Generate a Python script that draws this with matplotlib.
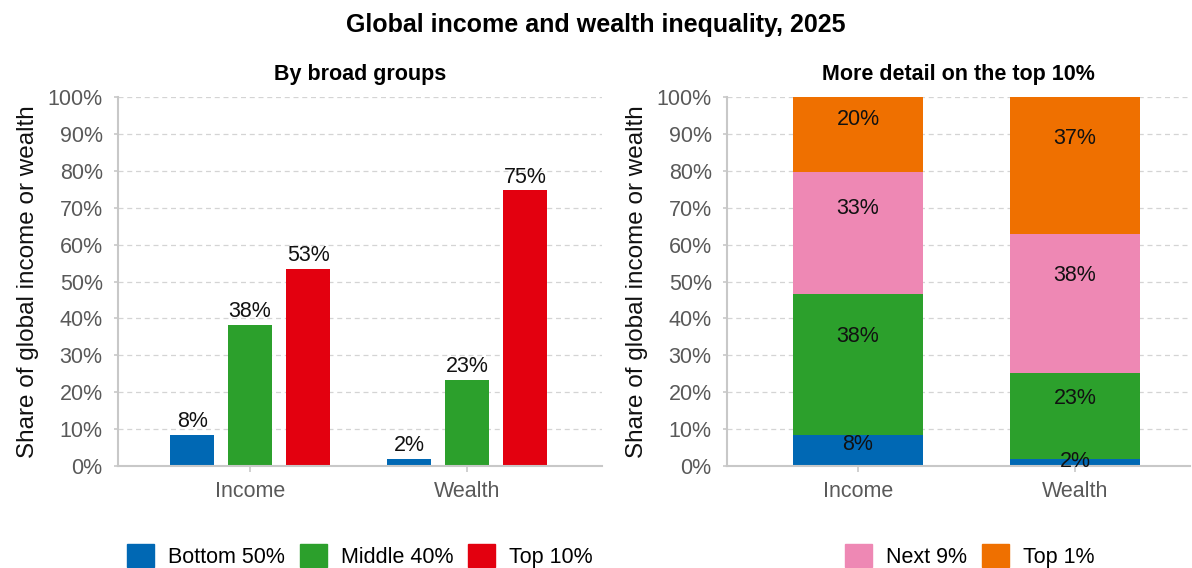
import matplotlib
matplotlib.use("Agg")
import matplotlib.pyplot as plt
from matplotlib.patches import Patch
import numpy as np

plt.rcParams['font.family'] = ['Liberation Sans', 'DejaVu Sans']

# ---- data ----
categories = ["Income", "Wealth"]
bottom50 = [8.4, 1.9]
middle40 = [38.2, 23.4]
top10 = [53.4, 74.7]
next9 = [33.1, 37.6]
top1 = [20.3, 37.1]
yticks = [0, 10, 20, 30, 40, 50, 60, 70, 80, 90, 100]
yticklabels = [f"{v}%" for v in yticks]

title = "Global income and wealth inequality, 2025"
sub_left = "By broad groups"
sub_right = "More detail on the top 10%"
ylab = "Share of global income or wealth"

C_BOTTOM = "#0068b4"
C_MIDDLE = "#2ca02c"
C_TOP10 = "#e3000f"
C_NEXT9 = "#ee88b4"
C_TOP1 = "#ef7000"
TICK_COLOR = "#595959"
SPINE_COLOR = "#c8c8c8"
GRID_COLOR = "#d4d4d4"
FS = 15.5

W, H = 1192, 568
fig = plt.figure(figsize=(W / 100, H / 100), dpi=100)

def px_axes(x0, x1, ytop, ybot):
    return fig.add_axes([x0 / W, (H - ybot) / H, (x1 - x0) / W, (ybot - ytop) / H])

axL = px_axes(118, 602, 97, 466)
axR = px_axes(727, 1190, 97, 466)

def style(ax):
    ax.set_ylim(0, 100)
    ax.set_yticks(yticks)
    ax.set_yticklabels(yticklabels)
    ax.yaxis.grid(True, linestyle=(0, (4, 3)), color=GRID_COLOR, linewidth=0.9)
    ax.set_axisbelow(True)
    for s in ["top", "right"]:
        ax.spines[s].set_visible(False)
    for s in ["left", "bottom"]:
        ax.spines[s].set_color(SPINE_COLOR)
        ax.spines[s].set_linewidth(1.5)
    ax.tick_params(axis="y", colors=SPINE_COLOR, labelcolor=TICK_COLOR, labelsize=FS, length=3, width=1.2, pad=8)
    ax.tick_params(axis="x", colors=SPINE_COLOR, labelcolor=TICK_COLOR, labelsize=FS, length=4, width=1.2, pad=7)
    ax.set_ylabel(ylab, fontsize=17.5, color="#111111", labelpad=6)

x = np.arange(len(categories))

# ---- left panel: grouped bars ----
bw = 0.203
step = 0.267
series = [(bottom50, C_BOTTOM), (middle40, C_MIDDLE), (top10, C_TOP10)]
for i, (vals, col) in enumerate(series):
    pos = x + (i - 1) * step
    bars = axL.bar(pos, vals, width=bw, color=col)
    for b, v in zip(bars, vals):
        axL.annotate(f"{v:.0f}%", (b.get_x() + b.get_width() / 2, v), xytext=(0, 2),
                     textcoords="offset points", ha="center", va="bottom", fontsize=FS, color="#111111")
axL.set_xlim(-0.608, 1.62)
axL.set_xticks(x)
axL.set_xticklabels(categories)
style(axL)
axL.set_title(sub_left, fontsize=15.5, fontweight="bold", pad=12)

# ---- right panel: stacked bars ----
stack = [(bottom50, C_BOTTOM), (middle40, C_MIDDLE), (next9, C_NEXT9), (top1, C_TOP1)]
base = np.zeros(len(categories))
for vals, col in stack:
    vals = np.array(vals)
    axR.bar(x, vals, width=0.6, bottom=base, color=col)
    for xi, b, v in zip(x, base, vals):
        axR.text(xi, b + v * 0.7, f"{v:.0f}%", ha="center", va="center", fontsize=FS, color="#111111")
    base = base + vals
axR.set_xlim(-0.604, 1.53)
axR.set_xticks(x)
axR.set_xticklabels(categories)
style(axR)
axR.set_title(sub_right, fontsize=15.5, fontweight="bold", pad=12)

fig.text(0.5, 1 - 25 / H, title, ha="center", va="center", fontsize=18, fontweight="bold")

# ---- legends ----
legL = [Patch(color=C_BOTTOM, label="Bottom 50%"), Patch(color=C_MIDDLE, label="Middle 40%"),
        Patch(color=C_TOP10, label="Top 10%")]
legR = [Patch(color=C_NEXT9, label="Next 9%"), Patch(color=C_TOP1, label="Top 1%")]
kw = dict(ncol=3, frameon=False, fontsize=FS, handlelength=1.25, handleheight=1.3,
          handletextpad=0.65, columnspacing=0.7, loc="center", borderaxespad=0)
fig.legend(handles=legL, bbox_to_anchor=(360 / W, 1 - 556 / H), **kw)
kw["ncol"] = 2
fig.legend(handles=legR, bbox_to_anchor=(970 / W, 1 - 556 / H), **kw)

fig.savefig("out.png", dpi=100)
